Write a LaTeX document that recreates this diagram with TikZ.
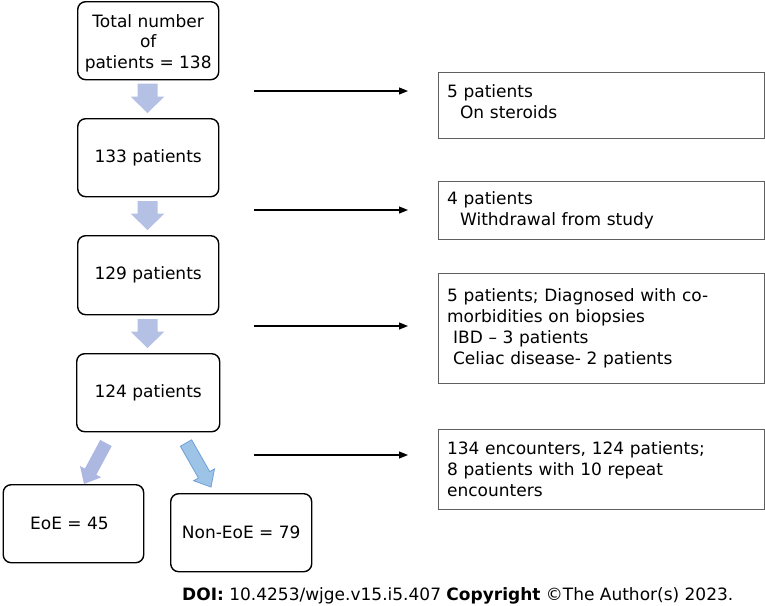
\documentclass[tikz,border=0pt]{standalone}
\usepackage{fontspec}
\setmainfont{DejaVu Sans}
\usetikzlibrary{arrows.meta,calc}
\definecolor{downblue}{RGB}{180,192,228}
\definecolor{leftblue}{RGB}{172,184,226}
\definecolor{skyfill}{RGB}{157,195,230}
\definecolor{skyline}{RGB}{110,160,215}
\definecolor{rboxline}{RGB}{95,95,95}
% #1 style, #2 start, #3 end, #4 shaft half width, #5 head half width, #6 head length
\newcommand\fatarrow[6]{%
  \path[#1] let \p1=(#2), \p2=(#3),
      \n1={atan2(\y2-\y1,\x2-\x1)}, \n2={veclen(\x2-\x1,\y2-\y1)} in
    ($(\p1)+({\n1+90}:#4)$)
    -- ($(\p1)+(\n1:{\n2*1pt-#6})+({\n1+90}:#4)$)
    -- ($(\p1)+(\n1:{\n2*1pt-#6})+({\n1+90}:#5)$)
    -- (\p2)
    -- ($(\p1)+(\n1:{\n2*1pt-#6})+({\n1-90}:#5)$)
    -- ($(\p1)+(\n1:{\n2*1pt-#6})+({\n1-90}:#4)$)
    -- ($(\p1)+({\n1-90}:#4)$) -- cycle;}
\begin{document}
\begin{tikzpicture}[x=1pt,y=-1pt,
  font=\fontsize{17}{21}\selectfont,
  lbox/.style={draw=black, line width=1.4pt, rounded corners=8pt,
    anchor=north west, inner sep=0pt, align=center},
  rbox/.style={draw=rboxline, line width=1.2pt, anchor=north west,
    minimum width=326pt, text width=308pt, inner xsep=9pt, inner ysep=0pt,
    align=left},
  thin arrow/.style={line width=1.1pt, -{Triangle[length=9pt,width=7pt]}},
  downarr/.style={fill=downblue},
  leftarr/.style={fill=leftblue},
  rightarr/.style={fill=skyfill, draw=skyline, line width=0.8pt}]
\useasboundingbox (0,0) rectangle (765,605);

% left column boxes
\node[lbox, minimum width=141pt, minimum height=78pt,
  font=\fontsize{17}{20.5}\selectfont] (b1) at (77,1)
  {\rule{0pt}{18pt}Total number\\of\\patients = 138};
\node[lbox, minimum width=141pt, minimum height=78pt] (b2) at (77,118) {133 patients};
\node[lbox, minimum width=141pt, minimum height=79pt] (b3) at (77,235) {129 patients};
\node[lbox, minimum width=143pt, minimum height=78pt] (b4) at (76,353) {124 patients};
\node[lbox, minimum width=140.5pt, minimum height=78pt] (eoe) at (2.5,484) {EoE = 45\hspace*{8pt}};
\node[lbox, minimum width=141pt, minimum height=78pt] (neoe) at (170,493) {Non-EoE = 79};

% right column boxes
\node[rbox, minimum height=66.5pt] (r1) at (437.5,71.5)
  {5 patients\\\hspace*{13pt}On steroids\rule[-8pt]{0pt}{8pt}};
\node[rbox, minimum height=57.5pt] (r2) at (437.5,181)
  {4 patients\\\hspace*{13pt}Withdrawal from study};
\node[rbox, minimum height=110.5pt] (r3) at (437.5,272.5)
  {5 patients; Diagnosed with co-\\morbidities on biopsies\\\hspace*{6pt}IBD -- 3 patients\\\hspace*{6pt}Celiac disease- 2 patients};
\node[rbox, minimum height=80pt] (r4) at (437.5,429)
  {134 encounters, 124 patients;\\8 patients with 10 repeat\\encounters};

% thick block arrows
\coordinate (a1s) at (147.5,83.5);  \coordinate (a1e) at (147.5,113);
\coordinate (a2s) at (147.5,201);   \coordinate (a2e) at (147.5,230);
\coordinate (a3s) at (147.5,319);   \coordinate (a3e) at (147.5,348);
\coordinate (dls) at (106,443);     \coordinate (dle) at (84,484);
\coordinate (drs) at (186,443);     \coordinate (dre) at (211,487);
\fatarrow{downarr}{a1s}{a1e}{10pt}{17pt}{16.5pt}
\fatarrow{downarr}{a2s}{a2e}{10pt}{17pt}{16.5pt}
\fatarrow{downarr}{a3s}{a3e}{10pt}{17pt}{16.5pt}
\fatarrow{leftarr}{dls}{dle}{6.5pt}{12pt}{14pt}
\fatarrow{rightarr}{drs}{dre}{6.5pt}{12pt}{14pt}

% thin horizontal arrows
\coordinate (h1s) at (254,91);    \coordinate (h1e) at (408,91);
\coordinate (h2s) at (254,210);   \coordinate (h2e) at (408,210);
\coordinate (h3s) at (254,326);   \coordinate (h3e) at (408,326);
\coordinate (h4s) at (254,455);   \coordinate (h4e) at (408,455);
\draw[thin arrow] (h1s) -- (h1e);
\draw[thin arrow] (h2s) -- (h2e);
\draw[thin arrow] (h3s) -- (h3e);
\draw[thin arrow] (h4s) -- (h4e);

% credit line
\node[anchor=base west, inner sep=0pt] (doi) at (182,600)
  {\textbf{DOI:} 10.4253/wjge.v15.i5.407 \textbf{Copyright} ©The Author(s) 2023.};
\end{tikzpicture}
\end{document}
